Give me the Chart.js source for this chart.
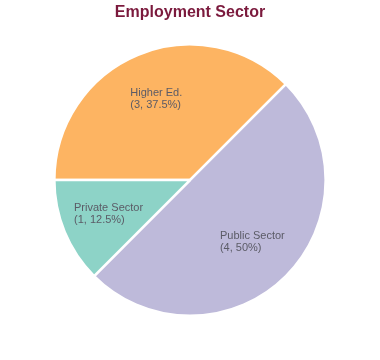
<!DOCTYPE html>
<html>
<head>
<meta charset="utf-8">
<script src="https://cdn.jsdelivr.net/npm/chart.js@4"></script>
<style>
  html, body { margin: 0; padding: 0; background: #fff; }
  #wrap { width: 380px; height: 360px; }
</style>
</head>
<body>
<div id="wrap"><canvas id="chart" width="380" height="360"></canvas></div>
<script>
const sectors = ['Higher Ed.', 'Public Sector', 'Private Sector'];
const counts = [3, 4, 1];
const sliceColors = ['#FDB462', '#BEBADA', '#8DD3C7'];

// labels drawn inside each slice, left-aligned block
const sliceLabels = {
    id: 'sliceLabels',
    afterDatasetsDraw(chart) {
        const ctx = chart.ctx;
        const total = counts.reduce((s, v) => s + v, 0);
        const meta = chart.getDatasetMeta(0);
        ctx.save();
        ctx.font = '11px "Liberation Sans", Arial, sans-serif';
        ctx.fillStyle = '#5b5b66';
        ctx.textBaseline = 'middle';
        ctx.textAlign = 'left';
        meta.data.forEach((arc, i) => {
            const mid = (arc.startAngle + arc.endAngle) / 2;
            const r = arc.outerRadius * 0.65;
            const x = arc.x + Math.cos(mid) * r;
            const y = arc.y + Math.sin(mid) * r;
            const pct = Math.round(counts[i] / total * 1000) / 10;
            const lines = [sectors[i], `(${counts[i]}, ${pct}%)`];
            const w = Math.max(...lines.map(l => ctx.measureText(l).width));
            ctx.fillText(lines[0], x - w / 2, y - 6);
            ctx.fillText(lines[1], x - w / 2, y + 6);
        });
        ctx.restore();
    }
};

new Chart(document.getElementById('chart'), {
    type: 'pie',
    data: {
        labels: sectors,
        datasets: [{
            data: counts,
            backgroundColor: sliceColors,
            borderColor: '#ffffff',
            borderWidth: 2.5
        }]
    },
    options: {
        responsive: false,
        animation: false,
        rotation: -90,
        layout: { padding: { top: 0, bottom: 43, left: 0, right: 0 } },
        plugins: {
            legend: { display: false },
            tooltip: { enabled: false },
            title: {
                display: true,
                text: 'Employment Sector',
                color: '#7B1A3D',
                font: { family: '"Liberation Sans", Arial, sans-serif', size: 16, weight: 'bold' },
                padding: { top: 3, bottom: 21 }
            }
        }
    },
    plugins: [sliceLabels]
});
</script>
</body>
</html>
